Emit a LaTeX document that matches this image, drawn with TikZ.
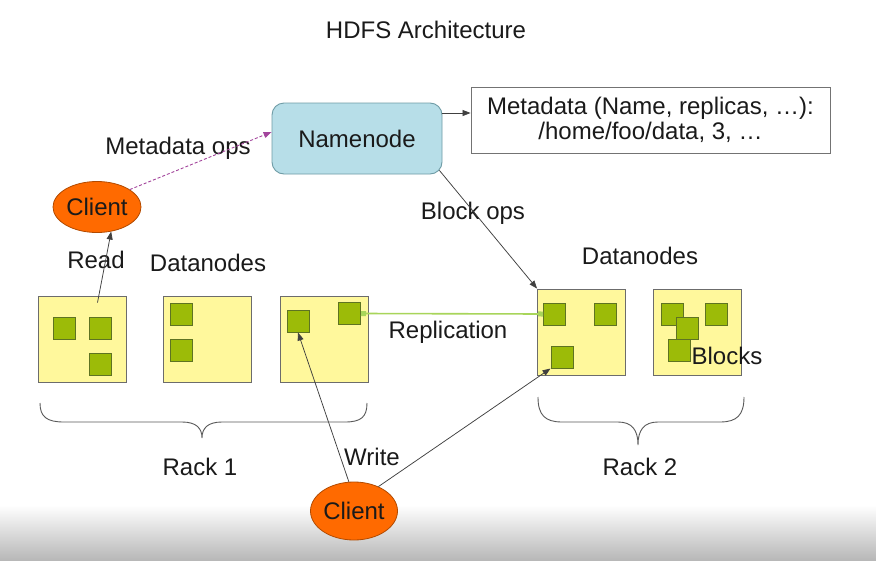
\documentclass[tikz,border=0pt]{standalone}
\usepackage{fontspec}
\setmainfont{Liberation Sans}
\usetikzlibrary{arrows.meta,shapes.geometric}
\definecolor{yel}{HTML}{FFF89C}
\definecolor{grn}{HTML}{9CBB08}
\definecolor{grnd}{HTML}{5E7322}
\definecolor{nnfill}{HTML}{B7DEE8}
\definecolor{nndraw}{HTML}{6F9CA6}
\definecolor{orng}{HTML}{FF6A00}
\definecolor{orngd}{HTML}{B24A00}
\definecolor{purp}{HTML}{A3459C}
\definecolor{repl}{HTML}{A8D55A}
\definecolor{txt}{HTML}{1A1A1A}
\begin{document}
\begin{tikzpicture}[x=1pt,y=-1pt,
  lbl/.style={font=\fontsize{24}{25}\selectfont, text=txt, inner sep=0},
  dn/.style={draw=gray!85!black, fill=yel, line width=0.9pt, minimum width=88pt, minimum height=86pt, inner sep=0},
  blk/.style={draw=grnd, fill=grn, line width=1pt, minimum size=22pt, inner sep=0},
  client/.style={ellipse, draw=orngd, fill=orng, line width=0.8pt, inner sep=0, font=\fontsize{24}{25}\selectfont, text=txt},
  conn/.style={draw=black!75, line width=0.75pt},
  tipb/.style={-{Triangle[length=8pt,width=6pt]}},
  bracestyle/.style={draw=black!65, line width=0.9pt},
]
\useasboundingbox (0,0) rectangle (876,560);
\fill[white] (0,0) rectangle (876,560);
\shade[top color=white, bottom color=black!28] (0,505) rectangle (876,560);

% title
\node[lbl] (title) at (426,30) {HDFS Architecture};

% namenode and metadata
\node[draw=nndraw, fill=nnfill, line width=0.9pt, rounded corners=12pt, minimum width=170pt, minimum height=71pt, inner sep=0, font=\fontsize{24}{25}\selectfont, text=txt] (namenode) at (357,138.5) {Namenode};
\node[draw=gray!90!black, fill=white, line width=0.9pt, minimum width=359pt, minimum height=66pt, inner sep=0, align=center, font=\fontsize{24}{25}\selectfont, text=txt] (meta) at (650.5,120) {Metadata (Name, replicas, …):\\/home/foo/data, 3, …};
\coordinate (ma) at ([yshift=7pt]meta.west);
\draw[conn,tipb] (ma -| namenode.east) -- (ma);

% clients
\node[client, minimum width=88pt, minimum height=51pt] (client1) at (97,207) {Client};
\node[client, minimum width=87pt, minimum height=58pt] (client2) at (354,511) {Client};

% datanodes rack 1
\node[dn] (box1) at (82.5,339) {};
\node[dn] (box2) at (207,339) {};
\node[dn] (box3) at (324,339) {};
% datanodes rack 2
\node[dn] (box4) at (581.5,332) {};
\node[dn] (box5) at (697.5,332) {};

% blocks
\node[blk] (b1a) at (64,328) {};
\node[blk] (b1b) at (100.5,328) {};
\node[blk] (b1c) at (100.5,364) {};
\node[blk] (b2a) at (181,314) {};
\node[blk] (b2b) at (181,350) {};
\node[blk] (b3a) at (298,321) {};
\node[blk] (b3b) at (349.5,313.5) {};
\node[blk] (b4a) at (554.5,314) {};
\node[blk] (b4b) at (605.5,314) {};
\node[blk] (b4c) at (562,357) {};
\node[blk] (b5a) at (672,314) {};
\node[blk] (b5d) at (716,314) {};
\node[blk] (b5c) at (679.5,350) {};
\node[blk] (b5b) at (687,328.5) {};

% labels
\node[lbl] (lmeta) at (178,148) {Metadata ops};
\node[lbl] (lread) at (96,260) {Read};
\node[lbl] (ldn1) at (208,263) {Datanodes};
\node[lbl] (lblock) at (473,213) {Block ops};
\node[lbl] (ldn2) at (640,256) {Datanodes};
\node[lbl] (lrepl) at (448,332) {Replication};
\node[lbl] (lblocks) at (727,356) {Blocks};
\node[lbl] (lrack1) at (200,467) {Rack 1};
\node[lbl] (lrack2) at (640,467) {Rack 2};
\node[lbl] (lwrite) at (372,457) {Write};

% metadata ops (dashed purple)
\draw[draw=purp, line width=0.9pt, dash pattern=on 3pt off 2pt, -{Triangle[length=8pt,width=6pt]}] (client1.28) -- ([yshift=6.5pt]namenode.west);

% read
\coordinate (rs) at ([xshift=15pt,yshift=-7pt]box1.north);
\draw[conn,tipb] (rs) -- (client1.-60);

% block ops
\coordinate (bs) at ([xshift=-3pt,yshift=4pt]namenode.south east);
\draw[conn,tipb] (bs) -- (box4.north west);

% replication
\draw[draw=repl, line width=1.6pt, {Square[length=5pt,width=5pt]}-{Square[length=5pt,width=5pt]}] (b3b.east) -- (b4a.west);

% write
\draw[conn,tipb] (client2.100) -- (b3a.south);
\draw[conn,tipb] (client2.45) -- (b4c.south west);

% braces
\draw[bracestyle] (40,403) .. controls (40,417) and (47,422) .. (64,422) -- (182,422) .. controls (196,422) and (202,428) .. (202,438)
  .. controls (202,428) and (208,422) .. (222,422) -- (345,422) .. controls (361,422) and (367,417) .. (367,403);
\draw[bracestyle] (538,397) .. controls (538,415) and (545,422) .. (562,422) -- (618,422) .. controls (632,422) and (638,430) .. (638,445)
  .. controls (638,430) and (644,422) .. (658,422) -- (720,422) .. controls (737,422) and (744,415) .. (744,397);
\end{tikzpicture}
\end{document}
